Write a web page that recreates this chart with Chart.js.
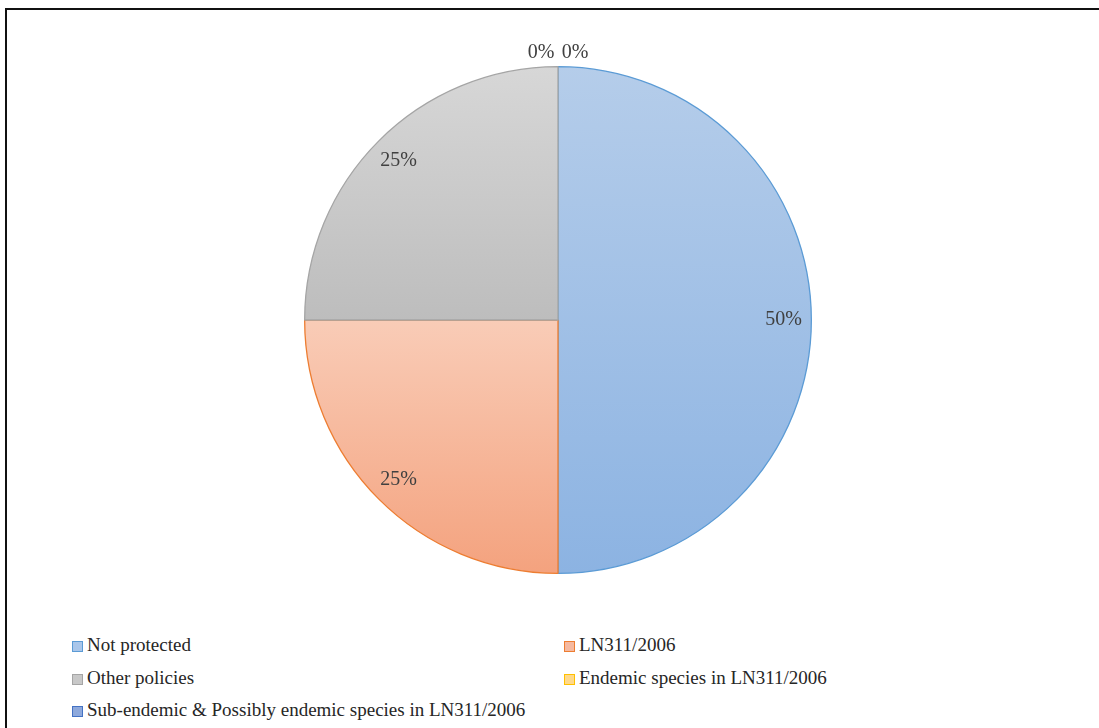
<!DOCTYPE html>
<html>
<head>
<meta charset="utf-8">
<script src="https://cdn.jsdelivr.net/npm/chart.js@4"></script>
<style>
  html, body { margin: 0; padding: 0; background: #fff; overflow: hidden; }
  body { width: 1099px; height: 728px; position: relative; }
  #frame { position: absolute; left: 5px; top: 8px; width: 1200px; height: 800px;
           border-top: 2px solid #111; border-left: 2px solid #111; }
  #wrap { position: absolute; left: 0; top: 0; width: 1099px; height: 600px; }
  #legend { position: absolute; left: 72px; top: 632px;
            font-family: "Liberation Serif", "Times New Roman", "DejaVu Serif", serif;
            font-size: 19px; color: #262626; }
  .item { position: absolute; white-space: nowrap; height: 26px; line-height: 26px; }
  .box { display: inline-block; width: 9px; height: 9px; border: 1px solid; margin-right: 4px;
         vertical-align: -1px; }
</style>
</head>
<body>
<div id="frame"></div>
<div id="wrap"><canvas id="pie"></canvas></div>
<div id="legend"></div>
<script>
var categories = ["Not protected", "LN311/2006", "Other policies",
  "Endemic species in LN311/2006", "Sub-endemic & Possibly endemic species in LN311/2006"];
var values = [50, 25, 25, 0, 0];

var lightColors = ["#b5cdea", "#f9ccb7", "#d7d7d7", "#ffe08f", "#91acdc"];
var darkColors = ["#8cb3e2", "#f4a27e", "#bdbdbd", "#ffc000", "#4472c4"];
var lineColors = ["#5b9bd5", "#ed7d31", "#a5a5a5", "#ffc000", "#4472c4"];
var legendFill = ["#a9c6ea", "#f5b9a0", "#c8c8c8", "#ffd98a", "#8ea9dc"];

var serif = "'Liberation Serif', 'Times New Roman', 'DejaVu Serif', serif";
var total = values.reduce(function (a, b) { return a + b; }, 0);

// gradient per slice, top to bottom of the slice's own extent
function sliceGradient(context) {
  var chart = context.chart;
  var area = chart.chartArea;
  var i = context.dataIndex;
  if (!area) return lightColors[i];
  var cy = (area.top + area.bottom) / 2;
  var r = Math.min(area.width, area.height) / 2;
  var before = 0;
  for (var k = 0; k < i; k++) before += values[k];
  var start = -Math.PI / 2 + before / total * 2 * Math.PI;
  var end = start + values[i] / total * 2 * Math.PI;
  var minY = cy, maxY = cy;
  for (var s = 0; s <= 60; s++) {
    var a = start + (end - start) * s / 60;
    var y = cy + r * Math.sin(a);
    minY = Math.min(minY, y);
    maxY = Math.max(maxY, y);
  }
  if (maxY - minY < 1) return lightColors[i];
  var g = chart.ctx.createLinearGradient(0, minY, 0, maxY);
  g.addColorStop(0, lightColors[i]);
  g.addColorStop(1, darkColors[i]);
  return g;
}

var pctLabels = {
  id: "pctLabels",
  afterDatasetsDraw: function (chart) {
    var ctx = chart.ctx;
    var meta = chart.getDatasetMeta(0);
    var zeroCount = 0;
    ctx.save();
    ctx.font = "20px " + serif;
    ctx.fillStyle = "#404040";
    ctx.textAlign = "center";
    ctx.textBaseline = "middle";
    meta.data.forEach(function (arc, i) {
      var p = arc.getProps(["x", "y", "startAngle", "endAngle", "outerRadius"], true);
      var text = Math.round(values[i] / total * 100) + "%";
      var mid = (p.startAngle + p.endAngle) / 2;
      var x, y;
      if (values[i] > 0) {
        x = p.x + Math.cos(mid) * p.outerRadius * 0.89;
        y = p.y + Math.sin(mid) * p.outerRadius * 0.89;
      } else {
        x = p.x + (zeroCount === 0 ? -17 : 17);
        y = p.y - p.outerRadius - 14;
        zeroCount++;
      }
      ctx.fillText(text, x, y);
    });
    ctx.restore();
  }
};

var chart = new Chart(document.getElementById("pie"), {
  type: "pie",
  data: {
    labels: categories,
    datasets: [{
      data: values,
      backgroundColor: sliceGradient,
      borderColor: lineColors,
      borderWidth: 1.3,
      hoverOffset: 0
    }]
  },
  options: {
    responsive: true,
    maintainAspectRatio: false,
    animation: false,
    layout: { padding: { left: 17, right: 0, top: 66, bottom: 26 } },
    plugins: {
      legend: { display: false },
      tooltip: { enabled: false }
    }
  },
  plugins: [pctLabels]
});

// legend in two columns
var legend = document.getElementById("legend");
categories.forEach(function (name, i) {
  var item = document.createElement("div");
  item.className = "item";
  item.style.left = (i % 2 === 0 ? 0 : 492) + "px";
  item.style.top = (Math.floor(i / 2) * 32.5) + "px";
  var box = document.createElement("span");
  box.className = "box";
  box.style.background = legendFill[i];
  box.style.borderColor = lineColors[i];
  item.appendChild(box);
  item.appendChild(document.createTextNode(name));
  legend.appendChild(item);
});
</script>
</body>
</html>
